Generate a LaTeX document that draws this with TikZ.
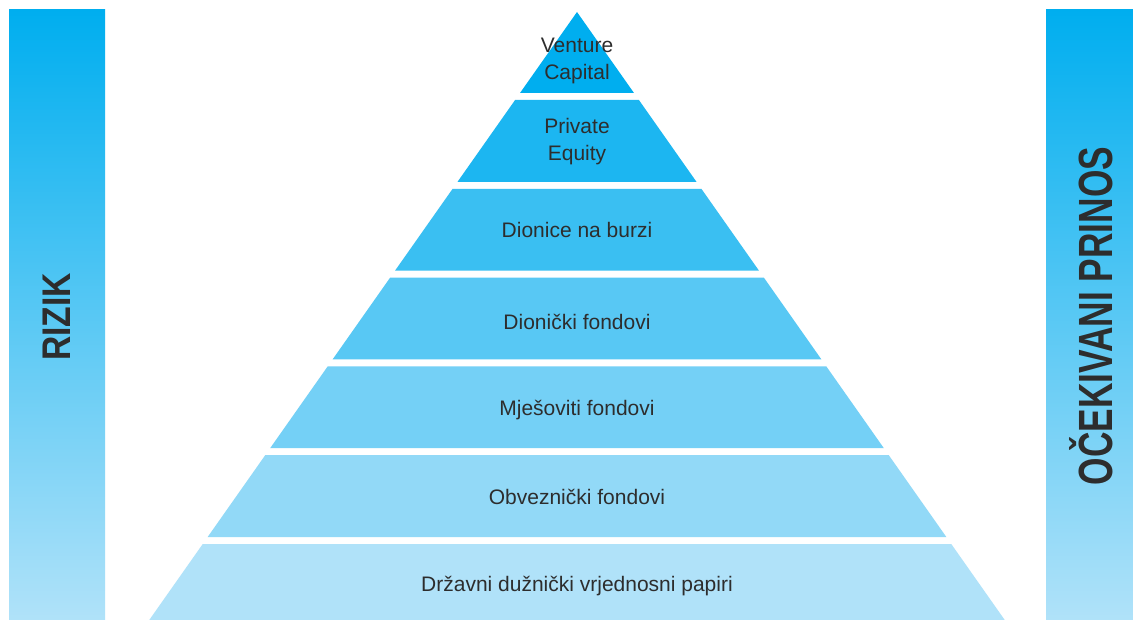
\documentclass[tikz,border=0pt]{standalone}
\usepackage{fontspec}
\setmainfont{Liberation Sans}
\newfontfamily\riskfont[FakeStretch=0.84]{Liberation Sans}
\newfontfamily\returnfont[FakeStretch=0.735]{Liberation Sans}
\definecolor{pyrtop}{RGB}{0,174,239}
\definecolor{pyrlight}{RGB}{176,226,249}
\definecolor{labeltext}{RGB}{45,45,45}

\begin{document}
\begin{tikzpicture}[
x=1pt, y=-1pt,
bar/.style={top color=pyrtop, bottom color=pyrlight},
tier/.style={font=\fontsize{21}{27}\selectfont, text=labeltext, align=center, inner sep=0pt},
side/.style={rotate=90, text=labeltext, inner sep=0pt}
]
\clip (0,0) rectangle (1133,620);
\fill[white] (0,0) rectangle (1133,620);

% side bars
\shade[bar] (9,10) rectangle (105,620);
\shade[bar] (1046,10) rectangle (1133,620);

% pyramid
\foreach \i in {1,...,7}{
  \pgfmathsetmacro{\yt}{\i==1 ? 12 : 100+(\i-2)*88.8}
  \pgfmathsetmacro{\yb}{93+(\i-1)*88.8}
  \pgfmathtruncatemacro{\mix}{(\i-1)*100/6}
  \fill[pyrlight!\mix!pyrtop] ({577-0.7035*(\yt-12)},\yt) -- ({577+0.7035*(\yt-12)},\yt)
    -- ({577+0.7035*(\yb-12)},\yb) -- ({577-0.7035*(\yb-12)},\yb) -- cycle;
}

\node[tier] (venture) at (577,61) {Venture\\Capital};
\node[tier] (private) at (577,142) {Private\\Equity};
\node[tier] (stocks) at (577,230) {Dionice na burzi};
\node[tier] (equityfunds) at (577,322) {Dionički fondovi};
\node[tier] (mixedfunds) at (577,410) {Mješoviti fondovi};
\node[tier] (bondfunds) at (577,497) {Obveznički fondovi};
\node[tier] (govbonds) at (577,586) {Državni dužnički vrjednosni papiri};

\node[side, font=\riskfont\bfseries\fontsize{40}{40}\selectfont] (risk) at (57,317) {RIZIK};
\node[side, font=\returnfont\bfseries\fontsize{48}{48}\selectfont] (return) at (1091,316) {OČEKIVANI PRINOS};
\end{tikzpicture}
\end{document}
